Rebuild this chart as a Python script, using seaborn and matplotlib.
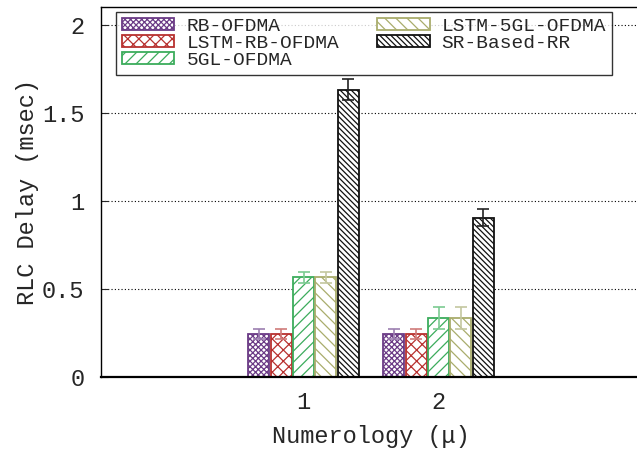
import pandas as pd
import matplotlib
matplotlib.use("Agg")
import matplotlib.pyplot as plt
import seaborn as sns

# values
numerology = [1, 2]
schemes = ["RB-OFDMA", "LSTM-RB-OFDMA", "5GL-OFDMA", "LSTM-5GL-OFDMA", "SR-Based-RR"]
rb_ofdma = [0.245, 0.245]
lstm_rb_ofdma = [0.245, 0.245]
gl5_ofdma = [0.565, 0.335]
lstm_5gl_ofdma = [0.565, 0.335]
sr_based_rr = [1.63, 0.905]
rb_ofdma_err = [0.03, 0.03]
lstm_rb_ofdma_err = [0.03, 0.03]
gl5_ofdma_err = [0.03, 0.06]
lstm_5gl_ofdma_err = [0.03, 0.06]
sr_based_rr_err = [0.06, 0.05]

values = [rb_ofdma, lstm_rb_ofdma, gl5_ofdma, lstm_5gl_ofdma, sr_based_rr]
errors = [rb_ofdma_err, lstm_rb_ofdma_err, gl5_ofdma_err, lstm_5gl_ofdma_err, sr_based_rr_err]

rows = []
for name, vals in zip(schemes, values):
    for mu, v in zip(numerology, vals):
        rows.append({"mu": mu, "scheme": name, "delay": v})
df = pd.DataFrame(rows)

colors = ["#6b3b86", "#b8312f", "#3cac5c", "#a9ad6c", "#111111"]
err_colors = ["#9c7fb0", "#cf7c7a", "#7ccb91", "#c4c7a0", "#222222"]
hatches = ["xxxxxx", "xxx", "///", "\\\\\\", "\\\\\\\\\\\\"]

sns.set_style("ticks")
plt.rcParams["font.family"] = ["Liberation Mono", "DejaVu Sans"]
plt.rcParams["hatch.linewidth"] = 0.9

fig = plt.figure(figsize=(6.37, 4.53), dpi=100)
ax = fig.add_axes([101 / 637, 1 - 377 / 453, 540 / 637, 370 / 453])

ax.yaxis.grid(True, linestyle=(0, (1, 2)), color="black", linewidth=0.8)
ax.set_axisbelow(True)

sns.barplot(data=df, x="mu", y="delay", hue="scheme", hue_order=schemes,
            native_scale=True, width=0.83, gap=0.07, errorbar=None,
            palette=["white"] * 5, ax=ax, zorder=2)

bar_conts = list(ax.containers)
for cont, col, ecol, h, errs in zip(bar_conts, colors, err_colors, hatches, errors):
    for bar, e in zip(cont.patches, errs):
        bar.set_facecolor("white")
        bar.set_edgecolor(col)
        bar.set_hatch(h)
        bar.set_linewidth(1.3)
        cx = bar.get_x() + bar.get_width() / 2
        ax.errorbar(cx, bar.get_height(), yerr=e, color=ecol, capsize=4,
                    elinewidth=1.2, capthick=1.2, zorder=3)

if ax.get_legend() is not None:
    ax.get_legend().remove()
leg = ax.legend([c.patches[0] for c in bar_conts], schemes, ncol=2,
                loc="upper left", bbox_to_anchor=(15 / 540, 1 - 5 / 370),
                fontsize=14, frameon=True, fancybox=False, edgecolor="black",
                handlelength=2.7, handleheight=0.6, labelspacing=0.0,
                columnspacing=1.95, handletextpad=0.62, borderpad=0.3,
                borderaxespad=0)
leg.get_frame().set_linewidth(1.0)

ax.set_xlim(-0.5, 3.5)
ax.set_ylim(0, 2.1)
ax.set_xticks(numerology)
ax.set_xticklabels(["1", "2"])
ax.set_yticks([0, 0.5, 1, 1.5, 2])
ax.set_yticklabels(["0", "0.5", "1", "1.5", "2"])
ax.tick_params(axis="both", direction="in", labelsize=17, length=5, pad=10)
ax.tick_params(axis="y", pad=12)
ax.set_xlabel("Numerology (\u03bc)", fontsize=17, labelpad=8)
ax.set_ylabel("RLC Delay (msec)", fontsize=17, labelpad=2)
for s in ax.spines.values():
    s.set_color("black")
    s.set_linewidth(1.0)
ax.spines["bottom"].set_linewidth(1.6)

fig.savefig("out.png", dpi=100)
